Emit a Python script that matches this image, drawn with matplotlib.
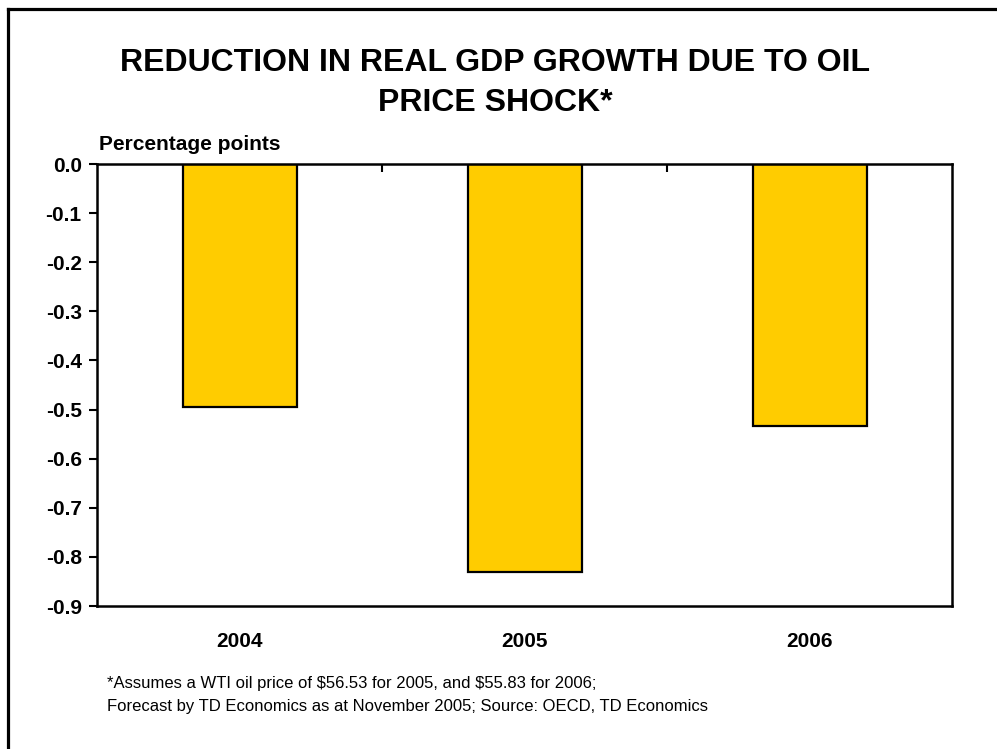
import matplotlib
matplotlib.use("Agg")
import matplotlib.pyplot as plt
from matplotlib.lines import Line2D
import numpy as np

plt.rcParams['font.family'] = ['Liberation Sans', 'DejaVu Sans']

years = ["2004", "2005", "2006"]
values = [-0.494, -0.831, -0.533]
yticks = [0.0, -0.1, -0.2, -0.3, -0.4, -0.5, -0.6, -0.7, -0.8, -0.9]

W, H = 997, 749
fig = plt.figure(figsize=(W / 100, H / 100), dpi=100)

# outer frame (left and top visible)
fig.add_artist(Line2D([8 / W, 8 / W], [0, 1 - 9 / H], transform=fig.transFigure,
                      color='black', lw=2.3, solid_capstyle='projecting'))
fig.add_artist(Line2D([8 / W, 1], [1 - 9 / H, 1 - 9 / H], transform=fig.transFigure,
                      color='black', lw=2.3, solid_capstyle='projecting'))

ax = fig.add_axes([97 / W, 1 - 606 / H, (952 - 97) / W, (606 - 164) / H])
x = np.arange(len(years))
ax.bar(x, values, width=0.40, color='#FFCC00', edgecolor='black', linewidth=1.6, zorder=2)

ax.set_xlim(-0.5, len(years) - 0.5)
ax.set_ylim(-0.9, 0.0)
ax.set_yticks(yticks)
ax.set_yticklabels([f"{v:.1f}" if v != 0 else "0.0" for v in yticks],
                   fontsize=15, fontweight='bold')
ax.tick_params(axis='y', direction='out', length=6, width=1.5, pad=5)

ax.set_xticks(x)
ax.set_xticklabels(years, fontsize=15, fontweight='bold')
ax.tick_params(axis='x', which='major', length=0, pad=19)
ax.set_xticks(np.arange(0.5, len(years) - 0.5, 1.0), minor=True)
ax.tick_params(axis='x', which='minor', top=True, bottom=False, direction='in',
               length=6, width=1.5)

for s in ax.spines.values():
    s.set_linewidth(1.8)
    s.set_color('black')

fig.text(495 / W, 1 - 83 / H, "REDUCTION IN REAL GDP GROWTH DUE TO OIL\nPRICE SHOCK*",
         ha='center', va='center', fontsize=23, fontweight='bold', linespacing=1.4)
fig.text(99 / W, 1 - 145 / H, "Percentage points", ha='left', va='center',
         fontsize=15, fontweight='bold')
fig.text(107 / W, 1 - 695 / H,
         "*Assumes a WTI oil price of \\$56.53 for 2005, and \\$55.83 for 2006;\n"
         "Forecast by TD Economics as at November 2005; Source: OECD, TD Economics",
         ha='left', va='center', fontsize=12, linespacing=1.65)

fig.savefig("out.png", dpi=100)
